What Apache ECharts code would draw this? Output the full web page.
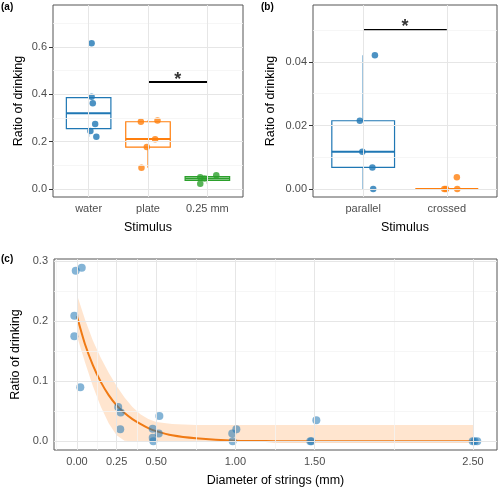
<!DOCTYPE html>
<html><head><meta charset="utf-8">
<script src="https://cdn.jsdelivr.net/npm/echarts@6/dist/echarts.min.js"></script>
<style>html,body{margin:0;padding:0;background:#fff}#c{width:500px;height:491px}</style>
</head><body><div id="c"></div>
<script>
// ---------- Panel (a) ----------
const catsA = ['water', 'plate', '0.25 mm'];
// [position, lower whisker, Q1, median, Q3, upper whisker]
const boxA = [
  [1, 0.221, 0.255, 0.320, 0.386, 0.390],
  [2, 0.090, 0.177, 0.211, 0.284, 0.289],
  [3, 0.022, 0.036, 0.044, 0.052, 0.058]
];
const waterX = [1.05, 1.05, 1.07, 1.11, 1.03, 1.13];
const waterY = [0.616, 0.390, 0.362, 0.275, 0.245, 0.221];
const plateX = [1.88, 2.16, 2.12, 1.98, 1.89];
const plateY = [0.284, 0.289, 0.210, 0.177, 0.090];
const mmX = [2.88, 3.15, 2.88, 2.95];
const mmY = [0.050, 0.058, 0.022, 0.044];
const sigAX = [2, 3];
const sigAY = [0.452, 0.452];
const yTicksA = [0, 0.2, 0.4, 0.6];
const yMinorA = [0.1, 0.3, 0.5, 0.7];

// ---------- Panel (b) ----------
const catsB = ['parallel', 'crossed'];
const boxB = [
  [1, 0.0, 0.0068, 0.0117, 0.0215, 0.0421],
  [2, 0.0, 0.0, 0.0, 0.0, 0.0]
];
const parX = [1.14, 0.96, 0.99, 1.11, 1.12];
const parY = [0.0421, 0.0215, 0.0117, 0.0068, 0.0];
const crossX = [1.97, 1.99, 2.125, 2.12];
const crossY = [0.0, 0.0, 0.0, 0.0037];
const sigBX = [1, 2];
const sigBY = [0.0501, 0.0501];
const yTicksB = [0, 0.02, 0.04];
const yMinorB = [0.01, 0.03, 0.05];

// ---------- Panel (c) ----------
const cX = [-0.008, 0.03, -0.017, -0.017, 0.021, 0.26, 0.276, 0.273, 0.478, 0.478, 0.482, 0.52, 0.516, 0.98, 1.006, 0.983, 1.511, 1.473, 1.48, 2.498, 2.527, 2.51];
const cY = [0.284, 0.289, 0.209, 0.175, 0.090, 0.057, 0.048, 0.020, 0.021, 0.006, 0.0, 0.042, 0.013, 0.013, 0.020, 0.0, 0.035, 0.0, 0.0, 0.0, 0.0, 0.0];
const fitX = [0, 0.05, 0.1, 0.15, 0.2, 0.25, 0.3, 0.35, 0.4, 0.45, 0.5, 0.6, 0.75, 1.0, 1.25, 1.5, 2.0, 2.5];
const fitY = [0.208, 0.162, 0.127, 0.099, 0.077, 0.060, 0.047, 0.037, 0.029, 0.022, 0.017, 0.010, 0.005, 0.001, 0.0003, 0.0001, 0, 0];
const ciUpper = [0.244, 0.203, 0.168, 0.139, 0.114, 0.092, 0.073, 0.057, 0.045, 0.037, 0.032, 0.029, 0.027, 0.027, 0.027, 0.027, 0.027, 0.027];
const ciLower = [0.175, 0.132, 0.092, 0.058, 0.030, 0.010, 0.001, 0, 0, 0, 0, 0, 0, 0, 0, 0, 0, 0];
const xTicksC = [0, 0.25, 0.5, 1.0, 1.5, 2.5];
const xMinorC = [-0.125, 0.125, 0.375, 0.75, 1.25, 2.0];
const yTicksC = [0, 0.1, 0.2, 0.3];
const yMinorC = [0.05, 0.15, 0.25];

const BLUE = '#1f77b4', ORANGE = '#ff7f0e', GREEN = '#2ca02c';
const FONT = 'Liberation Sans';
const zip = (a, b) => a.map((v, i) => [v, b[i]]);

function boxRender(colors, widthUnits) {
  return function (params, api) {
    const x = api.value(0);
    const lo = api.coord([x, api.value(1)]);
    const q1 = api.coord([x, api.value(2)]);
    const md = api.coord([x, api.value(3)]);
    const q3 = api.coord([x, api.value(4)]);
    const hi = api.coord([x, api.value(5)]);
    const w = api.size([widthUnits, 0])[0];
    const c = colors[params.dataIndex];
    const cx = md[0];
    return {
      type: 'group', children: [
        { type: 'line', shape: { x1: cx, y1: hi[1], x2: cx, y2: q3[1] }, style: { stroke: c, lineWidth: 1.2 } },
        { type: 'line', shape: { x1: cx, y1: q1[1], x2: cx, y2: lo[1] }, style: { stroke: c, lineWidth: 1.2 } },
        { type: 'rect', shape: { x: cx - w / 2, y: q3[1], width: w, height: Math.max(q1[1] - q3[1], 0) }, style: { fill: '#fff', stroke: c, lineWidth: 1.2 } },
        { type: 'line', shape: { x1: cx - w / 2, y1: md[1], x2: cx + w / 2, y2: md[1] }, style: { stroke: c, lineWidth: 2 } }
      ]
    };
  };
}

function gridLines(xi, yi, xMaj, xMin, yMaj, yMin) {
  const d = [];
  xMin.forEach(v => d.push({ xAxis: v, lineStyle: { color: '#f4f4f4', width: 0.8 } }));
  yMin.forEach(v => d.push({ yAxis: v, lineStyle: { color: '#f4f4f4', width: 0.8 } }));
  xMaj.forEach(v => d.push({ xAxis: v, lineStyle: { color: '#e6e6e6', width: 1 } }));
  yMaj.forEach(v => d.push({ yAxis: v, lineStyle: { color: '#e6e6e6', width: 1 } }));
  return {
    type: 'scatter', xAxisIndex: xi, yAxisIndex: yi, data: [], z: 1, silent: true,
    markLine: { silent: true, symbol: ['none', 'none'], animation: false, label: { show: false },
      lineStyle: { type: 'solid' }, emphasis: { disabled: true }, data: d }
  };
}

function yAxisCfg(gi, min, max, ticks, dec, name, gap) {
  return {
    type: 'value', gridIndex: gi, min, max,
    axisLine: { show: false }, splitLine: { show: false },
    axisTick: { show: true, length: 4, lineStyle: { color: '#333' }, customValues: ticks },
    axisLabel: { customValues: ticks, formatter: v => Number(v).toFixed(dec), color: '#4d4d4d', fontSize: 11, margin: 6, fontFamily: FONT },
    name, nameLocation: 'middle', nameGap: gap,
    nameTextStyle: { fontSize: 12.5, color: '#000', fontFamily: FONT }
  };
}
function xAxisCfg(gi, min, max, ticks, fmt, name, gap) {
  return {
    type: 'value', gridIndex: gi, min, max,
    axisLine: { show: false }, splitLine: { show: false },
    axisTick: { show: true, length: 4, lineStyle: { color: '#333' }, customValues: ticks },
    axisLabel: { customValues: ticks, formatter: fmt, color: '#4d4d4d', fontSize: 11, margin: 6, fontFamily: FONT },
    name, nameLocation: 'middle', nameGap: gap,
    nameTextStyle: { fontSize: 12.5, color: '#000', fontFamily: FONT }
  };
}
const gridBase = { show: true, borderColor: '#555', borderWidth: 1, backgroundColor: '#fff', containLabel: false, outerBoundsMode: 'none' };

const chart = echarts.init(document.getElementById('c'), null, { renderer: 'canvas' });
chart.setOption({
  animation: false,
  grid: [
    Object.assign({ left: 53, top: 5, width: 190, height: 192 }, gridBase),
    Object.assign({ left: 313, top: 5, width: 184, height: 192 }, gridBase),
    Object.assign({ left: 54, top: 259, width: 443, height: 191 }, gridBase)
  ],
  xAxis: [
    xAxisCfg(0, 0.4, 3.6, [1, 2, 3], v => catsA[Math.round(v) - 1], 'Stimulus', 24),
    xAxisCfg(1, 0.4, 2.6, [1, 2], v => catsB[Math.round(v) - 1], 'Stimulus', 24),
    xAxisCfg(2, -0.1452, 2.6515, xTicksC, v => Number(v).toFixed(2), 'Diameter of strings (mm)', 24)
  ],
  yAxis: [
    yAxisCfg(0, -0.0338, 0.777, yTicksA, 1, 'Ratio of drinking', 28),
    yAxisCfg(1, -0.00252, 0.05795, yTicksB, 2, 'Ratio of drinking', 36),
    yAxisCfg(2, -0.0144, 0.3034, yTicksC, 1, 'Ratio of drinking', 28)
  ],
  graphic: [
    { type: 'text', left: 1, top: 2, style: { text: '(a)', font: 'bold 10px "Liberation Sans"', fill: '#000' } },
    { type: 'text', left: 261, top: 2, style: { text: '(b)', font: 'bold 10px "Liberation Sans"', fill: '#000' } },
    { type: 'text', left: 1, top: 254, style: { text: '(c)', font: 'bold 10px "Liberation Sans"', fill: '#000' } }
  ],
  series: [
    gridLines(0, 0, [1, 2, 3], [], yTicksA, yMinorA),
    gridLines(1, 1, [1, 2], [], yTicksB, yMinorB),
    gridLines(2, 2, xTicksC, xMinorC, yTicksC, yMinorC),
    // (a)
    { type: 'custom', xAxisIndex: 0, yAxisIndex: 0, z: 3, data: boxA, renderItem: boxRender([BLUE, ORANGE, GREEN], 0.75), encode: { x: 0, y: [1, 2, 3, 4, 5] } },
    { type: 'scatter', xAxisIndex: 0, yAxisIndex: 0, z: 4, data: zip(waterX, waterY), symbolSize: 6.5, itemStyle: { color: BLUE } },
    { type: 'scatter', xAxisIndex: 0, yAxisIndex: 0, z: 4, data: zip(plateX, plateY), symbolSize: 6.5, itemStyle: { color: ORANGE } },
    { type: 'scatter', xAxisIndex: 0, yAxisIndex: 0, z: 4, data: zip(mmX, mmY), symbolSize: 6.5, itemStyle: { color: GREEN } },
    { type: 'line', xAxisIndex: 0, yAxisIndex: 0, z: 4, data: zip(sigAX, sigAY), showSymbol: false, lineStyle: { color: '#000', width: 2 } },
    { type: 'scatter', xAxisIndex: 0, yAxisIndex: 0, z: 4, data: [[(sigAX[0] + sigAX[1]) / 2, sigAY[0]]], symbolSize: 0,
      label: { show: true, position: 'top', distance: -7, formatter: '*', fontSize: 18, fontWeight: 'bold', color: '#000', fontFamily: FONT } },
    // (b)
    { type: 'custom', xAxisIndex: 1, yAxisIndex: 1, z: 3, data: boxB, renderItem: boxRender([BLUE, ORANGE], 0.75), encode: { x: 0, y: [1, 2, 3, 4, 5] } },
    { type: 'scatter', xAxisIndex: 1, yAxisIndex: 1, z: 4, data: zip(parX, parY), symbolSize: 6.5, itemStyle: { color: BLUE } },
    { type: 'scatter', xAxisIndex: 1, yAxisIndex: 1, z: 4, data: zip(crossX, crossY), symbolSize: 6.5, itemStyle: { color: ORANGE } },
    { type: 'line', xAxisIndex: 1, yAxisIndex: 1, z: 4, data: zip(sigBX, sigBY), showSymbol: false, lineStyle: { color: '#000', width: 2 } },
    { type: 'scatter', xAxisIndex: 1, yAxisIndex: 1, z: 4, data: [[(sigBX[0] + sigBX[1]) / 2, sigBY[0]]], symbolSize: 0,
      label: { show: true, position: 'top', distance: -6, formatter: '*', fontSize: 18, fontWeight: 'bold', color: '#000', fontFamily: FONT } },
    // (c)
    { type: 'custom', xAxisIndex: 2, yAxisIndex: 2, z: 2, data: fitX.map((x, i) => [x, ciLower[i], ciUpper[i]]),
      encode: { x: 0, y: [1, 2] },
      renderItem: function (params, api) {
        if (params.dataIndex !== 0) return;
        const pts = [];
        fitX.forEach((x, i) => pts.push(api.coord([x, ciUpper[i]])));
        for (let i = fitX.length - 1; i >= 0; i--) pts.push(api.coord([fitX[i], ciLower[i]]));
        return { type: 'polygon', shape: { points: pts }, style: { fill: 'rgba(255,127,14,0.2)' } };
      } },
    { type: 'line', xAxisIndex: 2, yAxisIndex: 2, z: 3, data: zip(fitX, fitY), smooth: 0.3, showSymbol: false, lineStyle: { color: '#f07a14', width: 2 } },
    { type: 'scatter', xAxisIndex: 2, yAxisIndex: 2, z: 4, data: zip(cX, cY), symbolSize: 8, itemStyle: { color: BLUE, opacity: 0.55 } }
  ]
});
</script>
</body></html>
